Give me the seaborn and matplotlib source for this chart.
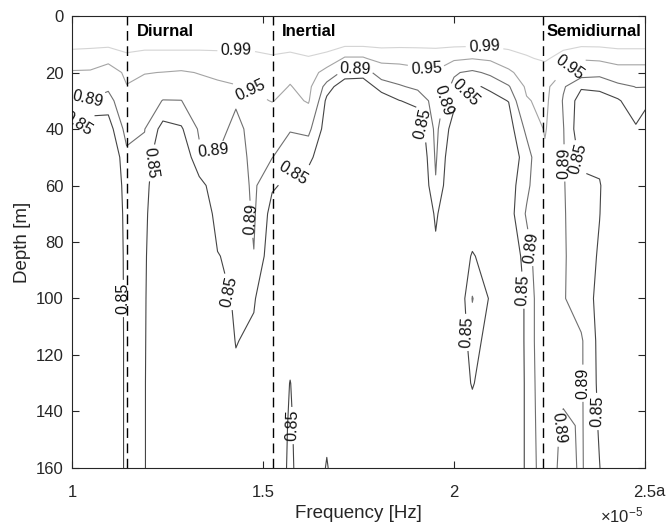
import numpy as np
import matplotlib
matplotlib.use("Agg")
import matplotlib.pyplot as plt
import seaborn as sns

# Depth bins (m) and frequency bins (x 1e-5 Hz)
depth_m = [0, 10, 15, 20, 25, 30, 40, 50, 60, 70, 85, 100, 115, 130, 145, 160]
freq_e5 = [1.000, 1.048, 1.095, 1.143, 1.190, 1.238, 1.286, 1.333, 1.381, 1.429, 1.476,
           1.524, 1.571, 1.619, 1.667, 1.714, 1.762, 1.810, 1.857, 1.905, 1.952,
           2.000, 2.048, 2.095, 2.143, 2.190, 2.238, 2.286, 2.333, 2.381, 2.429,
           2.476, 2.524]

# Coherence profiles (one list per frequency bin, values at depth_m)
coh_low = [
    [1.00, 0.995, 0.981, 0.945, 0.920, 0.889, 0.849, 0.820, 0.800, 0.790, 0.785, 0.780, 0.780, 0.780, 0.780, 0.780],
    [1.00, 0.995, 0.978, 0.944, 0.915, 0.885, 0.820, 0.800, 0.790, 0.785, 0.780, 0.780, 0.780, 0.780, 0.780, 0.780],
    [1.00, 0.994, 0.975, 0.910, 0.900, 0.870, 0.830, 0.800, 0.790, 0.785, 0.780, 0.780, 0.780, 0.780, 0.780, 0.780],
    [1.00, 0.996, 0.986, 0.965, 0.947, 0.935, 0.905, 0.880, 0.872, 0.868, 0.866, 0.865, 0.864, 0.864, 0.864, 0.864],
    [1.00, 0.995, 0.983, 0.952, 0.935, 0.920, 0.891, 0.882, 0.870, 0.862, 0.857, 0.855, 0.854, 0.853, 0.853, 0.853],
    [1.00, 0.995, 0.983, 0.949, 0.920, 0.888, 0.835, 0.800, 0.790, 0.790, 0.790, 0.790, 0.790, 0.790, 0.790, 0.790],
    [1.00, 0.995, 0.983, 0.945, 0.916, 0.889, 0.845, 0.810, 0.790, 0.790, 0.790, 0.790, 0.790, 0.790, 0.790, 0.790],
    [1.00, 0.995, 0.983, 0.952, 0.935, 0.920, 0.895, 0.882, 0.835, 0.810, 0.800, 0.790, 0.790, 0.790, 0.790, 0.790],
    [1.00, 0.995, 0.984, 0.958, 0.943, 0.930, 0.905, 0.888, 0.875, 0.866, 0.848, 0.830, 0.810, 0.800, 0.790, 0.790],
    [1.00, 0.995, 0.984, 0.962, 0.948, 0.895, 0.878, 0.874, 0.870, 0.866, 0.861, 0.857, 0.852, 0.840, 0.810, 0.800],
    [1.00, 0.995, 0.985, 0.965, 0.955, 0.940, 0.905, 0.900, 0.897, 0.895, 0.889, 0.855, 0.840, 0.830, 0.810, 0.800],
]
coh_mid = [
    [1.00, 0.996, 0.988, 0.980, 0.965, 0.952, 0.910, 0.891, 0.855, 0.835, 0.820, 0.800, 0.790, 0.790, 0.790, 0.790],
    [1.00, 0.995, 0.986, 0.960, 0.948, 0.935, 0.893, 0.865, 0.840, 0.820, 0.810, 0.810, 0.825, 0.852, 0.860, 0.865],
    [1.00, 0.996, 0.989, 0.975, 0.965, 0.955, 0.900, 0.860, 0.830, 0.810, 0.800, 0.790, 0.790, 0.790, 0.790, 0.790],
    [1.00, 0.996, 0.985, 0.930, 0.870, 0.840, 0.830, 0.820, 0.810, 0.800, 0.790, 0.790, 0.790, 0.790, 0.835, 0.855],
    [1.00, 0.998, 0.945, 0.875, 0.820, 0.810, 0.800, 0.790, 0.790, 0.790, 0.790, 0.790, 0.790, 0.790, 0.790, 0.790],
    [1.00, 0.998, 0.945, 0.870, 0.820, 0.810, 0.800, 0.790, 0.790, 0.790, 0.790, 0.790, 0.790, 0.790, 0.790, 0.790],
    [1.00, 0.997, 0.970, 0.910, 0.870, 0.820, 0.800, 0.790, 0.790, 0.790, 0.790, 0.790, 0.790, 0.790, 0.790, 0.790],
    [1.00, 0.996, 0.970, 0.920, 0.885, 0.849, 0.810, 0.800, 0.790, 0.790, 0.790, 0.790, 0.790, 0.790, 0.790, 0.790],
    [1.00, 0.996, 0.972, 0.935, 0.900, 0.860, 0.820, 0.800, 0.790, 0.790, 0.790, 0.790, 0.790, 0.790, 0.790, 0.790],
    [1.00, 0.996, 0.975, 0.945, 0.925, 0.910, 0.900, 0.895, 0.887, 0.857, 0.840, 0.820, 0.800, 0.790, 0.790, 0.790],
    [1.00, 0.997, 0.960, 0.895, 0.880, 0.860, 0.830, 0.810, 0.800, 0.800, 0.800, 0.790, 0.800, 0.800, 0.800, 0.800],
]
coh_high = [
    [1.00, 0.997, 0.952, 0.880, 0.845, 0.830, 0.820, 0.815, 0.810, 0.810, 0.855, 0.892, 0.870, 0.855, 0.820, 0.800],
    [1.00, 0.997, 0.960, 0.900, 0.855, 0.840, 0.820, 0.810, 0.800, 0.800, 0.825, 0.845, 0.830, 0.810, 0.800, 0.800],
    [1.00, 0.996, 0.980, 0.940, 0.885, 0.851, 0.830, 0.820, 0.830, 0.830, 0.810, 0.810, 0.810, 0.810, 0.810, 0.810],
    [1.00, 0.997, 0.988, 0.975, 0.960, 0.945, 0.900, 0.870, 0.880, 0.895, 0.870, 0.857, 0.857, 0.856, 0.856, 0.856],
    [1.00, 0.998, 0.993, 0.980, 0.970, 0.965, 0.955, 0.940, 0.935, 0.935, 0.935, 0.935, 0.935, 0.930, 0.925, 0.920],
    [1.00, 0.996, 0.982, 0.948, 0.895, 0.886, 0.892, 0.893, 0.893, 0.893, 0.893, 0.893, 0.910, 0.905, 0.880, 0.875],
    [1.00, 0.997, 0.955, 0.910, 0.855, 0.830, 0.820, 0.840, 0.860, 0.870, 0.875, 0.870, 0.895, 0.895, 0.895, 0.895],
    [1.00, 0.997, 0.960, 0.905, 0.855, 0.840, 0.830, 0.840, 0.853, 0.851, 0.845, 0.840, 0.838, 0.840, 0.845, 0.851],
    [1.00, 0.997, 0.975, 0.920, 0.880, 0.845, 0.820, 0.810, 0.810, 0.810, 0.810, 0.810, 0.810, 0.810, 0.810, 0.810],
    [1.00, 0.997, 0.975, 0.920, 0.891, 0.875, 0.845, 0.820, 0.810, 0.810, 0.810, 0.810, 0.810, 0.810, 0.810, 0.810],
    [1.00, 0.997, 0.975, 0.920, 0.891, 0.845, 0.830, 0.810, 0.810, 0.810, 0.810, 0.810, 0.810, 0.810, 0.810, 0.810],
]

levels = [0.85, 0.89, 0.95, 0.99]
level_colors = ["#454545", "#707070", "#a4a4a4", "#d4d4d4"]

# Tidal / inertial bands
band_names = ["Diurnal", "Inertial", "Semidiurnal"]
band_freq = [1.143, 1.526, 2.233]
band_text_freq = [1.171, 1.549, 2.241]

# Where contour labels sit (frequency, depth)
label_spots = [
    (1.43, 12), (2.08, 11),
    (1.47, 25.5), (1.93, 17), (2.30, 18),
    (1.04, 29), (1.37, 48), (1.465, 72), (1.74, 19), (1.975, 30),
    (2.20, 82), (2.29, 52), (2.29, 146), (2.34, 130),
    (1.02, 39), (1.21, 52), (1.13, 100), (1.40, 98), (1.585, 58),
    (1.925, 38), (2.03, 27), (2.185, 97), (2.34, 50), (2.375, 140),
    (2.035, 112), (1.575, 145),
]

sns.set_theme(style="ticks")
plt.rcParams["font.family"] = ["Liberation Sans", "DejaVu Sans"]
plt.rcParams["mathtext.fontset"] = "custom"
plt.rcParams["mathtext.rm"] = "Liberation Sans"
plt.rcParams["mathtext.it"] = "Liberation Sans:italic"

ink = "#262626"

fig = plt.figure(figsize=(6.66, 5.27), dpi=100)
ax = fig.add_axes([0.1081, 0.112, 0.8604, 0.8576])

Z = np.array(coh_low + coh_mid + coh_high).T
cs = ax.contour(freq_e5, depth_m, Z, levels=levels, colors=level_colors,
                linewidths=0.8)
ax.clabel(cs, levels=levels, fmt="%.2f", fontsize=11.5, inline=True,
          inline_spacing=3, colors="#111111", manual=label_spots)

for f in band_freq:
    ax.axvline(f, color="black", lw=1.0, ls=(0, (7, 4)))
for name, f in zip(band_names, band_text_freq):
    ax.text(f, 5.4, name, fontsize=12, fontweight="bold", color="black",
            ha="left", va="center")

ax.set_xlim(1, 2.5)
ax.set_ylim(160, 0)
ax.set_xticks([1, 1.5, 2, 2.5])
ax.set_xticklabels(["1", "1.5", "2", "2.5"])
ax.set_yticks(np.arange(0, 161, 20))
ax.tick_params(axis="both", direction="in", top=True, right=True, length=5,
               width=0.8, colors=ink, labelsize=12)
ax.tick_params(axis="x", pad=12.5)
ax.tick_params(axis="y", pad=6)
for s in ax.spines.values():
    s.set_color(ink)
    s.set_linewidth(0.8)

ax.set_xlabel("Frequency [Hz]", fontsize=13.5, color=ink)
ax.set_ylabel("Depth [m]", fontsize=13.5, color=ink)
ax.xaxis.set_label_coords(0.5, -0.083)
ax.yaxis.set_label_coords(-0.072, 0.5)

fig.text(0.9655, 0.022, r"$\times10^{-5}$", fontsize=12, color=ink,
         ha="right", va="center")
fig.text(0.984, 0.0683, "a", fontsize=12, color=ink, ha="left", va="center")

fig.savefig("out.png", dpi=100)
